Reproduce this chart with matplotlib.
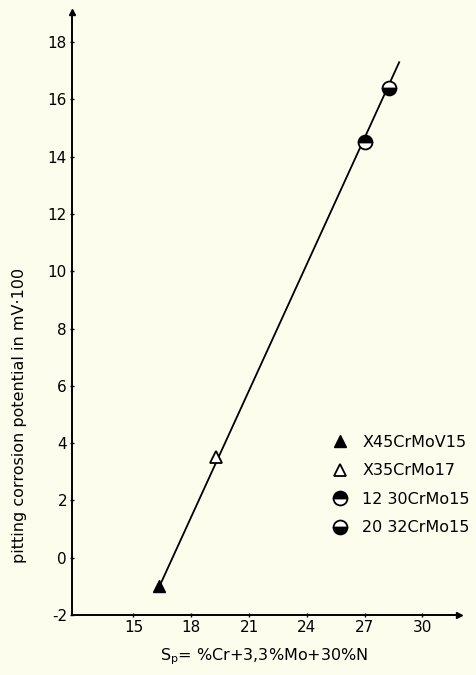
import numpy as np
import matplotlib.pyplot as plt

plt.rcParams['font.family'] = 'DejaVu Sans'
plt.rcParams['axes.unicode_minus'] = False

# measured points (Sp, potential in mV*100)
steels = ["X45CrMoV15", "X35CrMo17", "12 30CrMo15", "20 32CrMo15"]
sp_vals = [16.35, 19.3, 27.0, 28.25]
pot_vals = [-1.0, 3.5, 14.5, 16.4]

# fitted line end points
line_x = [16.35, 28.8]
line_y = [-1.0, 17.3]

xticks = [15, 18, 21, 24, 27, 30]
yticks = [-2, 0, 2, 4, 6, 8, 10, 12, 14, 16, 18]

bg = "#fdfdee"
fig = plt.figure(figsize=(4.76, 6.75), dpi=100, facecolor=bg)
ax = fig.add_axes([0.151, 0.089, 0.813, 0.893], facecolor=bg)

ax.plot(line_x, line_y, color="black", lw=1.3, zorder=2)

styles = [
    dict(marker="^", mfc="black", mec="black", ms=9),
    dict(marker="^", mfc="white", mec="black", ms=9, mew=1.3),
    dict(marker="o", mfc="black", mec="black", ms=10, fillstyle="top", markerfacecoloralt="white", mew=1.3),
    dict(marker="o", mfc="black", mec="black", ms=10, fillstyle="bottom", markerfacecoloralt="white", mew=1.3),
]
for name, x, y, st in zip(steels, sp_vals, pot_vals, styles):
    ax.plot([x], [y], ls="none", label=name, zorder=3, **st)

ax.set_xlim(11.8, 31.9)
ax.set_ylim(-2, 19.05)
ax.set_xticks(xticks)
ax.set_yticks(yticks)
ax.tick_params(direction="inout", length=3, width=1, labelsize=11, pad=2)

for s in ["top", "right"]:
    ax.spines[s].set_visible(False)
for s in ["left", "bottom"]:
    ax.spines[s].set_linewidth(1.4)

# arrow heads on the axes
ax.plot(1, 0, ">k", ms=5, transform=ax.transAxes, clip_on=False)
ax.plot(0, 1, "^k", ms=5, transform=ax.transAxes, clip_on=False)

fig.text(0.556, 0.027, r"S$_\mathrm{p}$= %Cr+3,3%Mo+30%N", ha="center", va="center", fontsize=11.5)
fig.text(0.042, 0.385, "pitting corrosion potential in mV·100", rotation=90,
         ha="center", va="center", fontsize=11.5)

ax.legend(loc="upper left", bbox_to_anchor=(0.697, 0.356), bbox_transform=fig.transFigure,
          frameon=False, fontsize=11.5, handlelength=1, handletextpad=0.9,
          labelspacing=0.85, borderpad=0, borderaxespad=0, numpoints=1)

fig.savefig("out.png", dpi=100, facecolor=bg)
